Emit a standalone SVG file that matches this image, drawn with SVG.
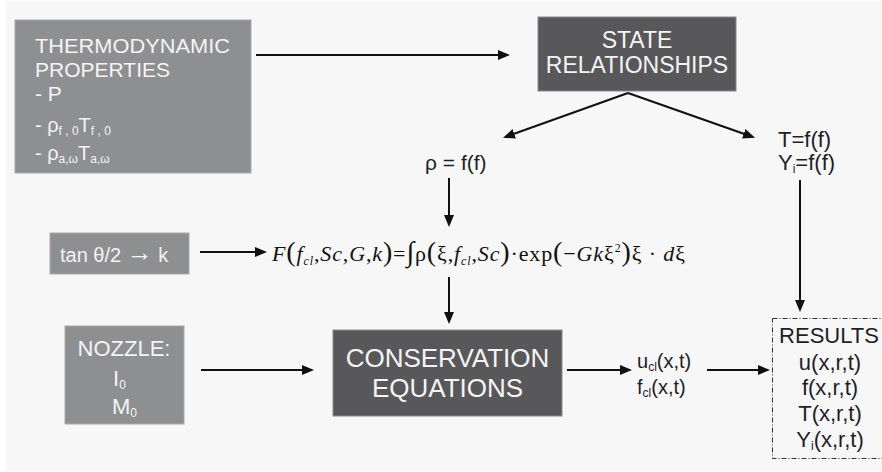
<svg xmlns="http://www.w3.org/2000/svg" width="882" height="472" viewBox="0 0 882 472">
<defs>
<style>
.bg{fill:#f7f7f7}
.lt{fill:#8e8f91;stroke:#a9aaac;stroke-width:1}
.dk{fill:#58585a;stroke:#8a8a8c;stroke-width:1}
.wt{fill:#f4f4f4;font-family:"Liberation Sans",Arial,sans-serif}
.bt{fill:#1e1e28;font-family:"Liberation Sans",Arial,sans-serif}
.math{fill:#111;font-family:"Liberation Serif","Times New Roman",serif;font-size:22px}
.i{font-style:italic}
.sub{font-size:12px}
.bp{font-size:28px}
.cn{stroke:#111;stroke-width:2;fill:none;marker-end:url(#ah)}
.dash{fill:none;stroke:#333;stroke-width:1;stroke-dasharray:5 2 1 2}
</style>
<marker id="ah" viewBox="0 0 12 10" refX="6" refY="5" markerWidth="12" markerHeight="10" markerUnits="userSpaceOnUse" orient="auto"><path d="M0,0 L12,5 L0,10 z" fill="#111"/></marker>
</defs>
<rect class="bg" x="6" y="1" width="876" height="470"/>

<g id="thermo">
<rect class="lt" x="15" y="20" width="236" height="153"/>
<text class="wt" font-size="21" x="35" y="53" textLength="195" lengthAdjust="spacingAndGlyphs">THERMODYNAMIC</text>
<text class="wt" font-size="21" x="35" y="77">PROPERTIES</text>
<text class="wt" font-size="21" x="35" y="101">- P</text>
<text class="wt" font-size="20" x="35" y="132">- ρ<tspan class="sub" dy="3">f , 0</tspan><tspan dy="-3">T</tspan><tspan class="sub" dy="3">f , 0</tspan></text>
<text class="wt" font-size="20" x="35" y="160">- ρ<tspan class="sub" dy="3">a,ω</tspan><tspan dy="-3">T</tspan><tspan class="sub" dy="3">a,ω</tspan></text>
</g>

<g id="state">
<rect class="dk" x="538" y="17" width="198" height="74"/>
<text class="wt" font-size="23" text-anchor="middle"><tspan x="637" y="48">STATE</tspan><tspan x="637" y="73">RELATIONSHIPS</tspan></text>
</g>

<g id="rho">
<text class="bt" font-size="21" x="425" y="170">ρ = f(f)</text>
</g>

<g id="tfy">
<text class="bt" font-size="22" x="778" y="147">T=f(f)</text>
<text class="bt" font-size="22" x="778" y="170">Y<tspan class="sub" dy="3">i</tspan><tspan dy="-3">=f(f)</tspan></text>
</g>

<g id="tan">
<rect class="lt" x="50" y="233" width="139" height="41"/>
<text class="wt" font-size="20" x="60" y="262">tan θ/2 <tspan font-size="26" dy="-1">→</tspan><tspan dy="1"> k</tspan></text>
</g>

<g id="formula">
<text class="math" x="272" y="261" textLength="413" lengthAdjust="spacing"><tspan class="i">F</tspan><tspan class="bp">(</tspan><tspan class="i">f</tspan><tspan class="sub i" dy="4">cl</tspan><tspan dy="-4">,</tspan><tspan class="i">Sc</tspan>,<tspan class="i">G</tspan>,<tspan class="i">k</tspan><tspan class="bp">)</tspan>=<tspan class="bp">∫</tspan>ρ<tspan class="bp">(</tspan>ξ,<tspan class="i">f</tspan><tspan class="sub i" dy="4">cl</tspan><tspan dy="-4">,</tspan><tspan class="i">Sc</tspan><tspan class="bp">)</tspan>·exp<tspan class="bp">(</tspan>−<tspan class="i">Gk</tspan>ξ<tspan class="sub" dy="-9">2</tspan><tspan class="bp" dy="9">)</tspan>ξ · <tspan class="i">d</tspan>ξ</text>
</g>

<g id="nozzle">
<rect class="lt" x="65" y="326" width="119" height="98"/>
<text class="wt" font-size="22" text-anchor="middle" x="124" y="356">NOZZLE:</text>
<text class="wt" font-size="22" x="113" y="386">I<tspan class="sub" dy="3">0</tspan></text>
<text class="wt" font-size="22" x="112" y="414">M<tspan class="sub" dy="3">0</tspan></text>
</g>

<g id="conservation">
<rect class="dk" x="333" y="330" width="229" height="86"/>
<text class="wt" font-size="26" text-anchor="middle"><tspan x="447.5" y="367">CONSERVATION</tspan><tspan x="447.5" y="397">EQUATIONS</tspan></text>
</g>

<g id="centerline">
<text class="bt" font-size="20" x="637" y="368">u<tspan class="sub" dy="3">cl</tspan><tspan dy="-3">(x,t)</tspan></text>
<text class="bt" font-size="20" x="637" y="394">f<tspan class="sub" dy="3">cl</tspan><tspan dy="-3">(x,t)</tspan></text>
</g>

<g id="results">
<rect class="dash" x="772.5" y="318.5" width="112" height="140"/>
<g class="bt" font-size="22" text-anchor="middle">
<text x="829" y="343">RESULTS</text>
<text x="830" y="370">u(x,r,t)</text>
<text x="830" y="395">f(x,r,t)</text>
<text x="830" y="421">T(x,r,t)</text>
<text x="830" y="447">Y<tspan class="sub" dy="3">i</tspan><tspan dy="-3">(x,r,t)</tspan></text>
</g>
</g>

<g id="connectors">
<line class="cn" x1="256" y1="55" x2="504" y2="55"/>
<line class="cn" x1="628" y1="93" x2="508.6" y2="135.8"/>
<line class="cn" x1="628" y1="93" x2="749.4" y2="135.8"/>
<line class="cn" x1="449" y1="178" x2="449" y2="221"/>
<line class="cn" x1="800" y1="180" x2="800" y2="306"/>
<line class="cn" x1="200" y1="252" x2="261" y2="252"/>
<line class="cn" x1="449" y1="277" x2="449" y2="318"/>
<line class="cn" x1="201" y1="370" x2="308" y2="370"/>
<line class="cn" x1="567" y1="370" x2="626" y2="370"/>
<line class="cn" x1="707" y1="370" x2="764" y2="370"/>
</g>
</svg>
